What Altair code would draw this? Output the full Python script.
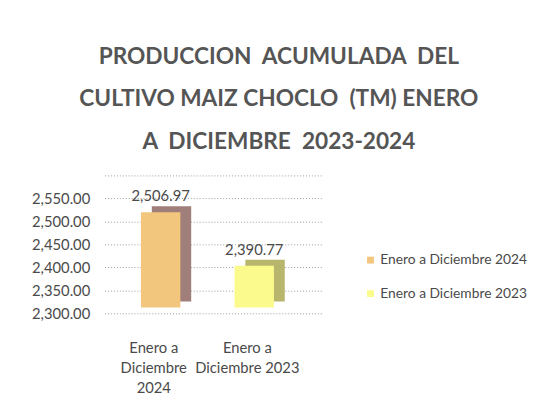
import altair as alt
import pandas as pd

categories = ["Enero a|Diciembre|2024", "Enero a|Diciembre 2023"]
series = ["Enero a  Diciembre  2024", "Enero a Diciembre 2023"]
values = [2506.97, 2390.77]
front_colors = ["#f3c67e", "#fbfa8c"]
side_colors = ["#a07e7a", "#b7b66c"]
y_ticks = [2300, 2350, 2400, 2450, 2500, 2550, 2600]
title_lines = [
    "PRODUCCION\u00a0 ACUMULADA\u00a0 DEL",
    "CULTIVO MAIZ CHOCLO\u00a0 (TM) ENERO",
    "A\u00a0 DICIEMBRE\u00a0 2023-2024",
]

FONT = "Lato"
TXT = "#4a4a4a"

df = pd.DataFrame({"cat": categories, "serie": series, "valor": values, "side": side_colors})

x_enc = alt.X(
    "cat:N",
    sort=categories,
    scale=alt.Scale(paddingInner=0.579, paddingOuter=0.458, align=0.425),
    axis=alt.Axis(
        title=None,
        labelExpr="split(datum.label, '|')",
        labelAngle=0,
        labelFont=FONT,
        labelFontSize=15,
        labelColor=TXT,
        labelLineHeight=20,
        labelPadding=28,
        labelOffset=-7,
        ticks=False,
        domain=False,
        grid=False,
    ),
)
y_scale = alt.Scale(domain=[2300, 2600], nice=False, zero=False)
y_enc = alt.Y(
    "valor:Q",
    scale=y_scale,
    axis=alt.Axis(
        title=None,
        values=y_ticks,
        labelExpr="datum.value >= 2600 ? '' : format(datum.value, ',.2f')",
        labelFont=FONT,
        labelFontSize=15,
        labelColor=TXT,
        labelPadding=15,
        ticks=False,
        domain=False,
        grid=True,
        gridColor="#9a9a9a",
        gridDash=[1, 2],
        gridWidth=1,
    ),
)

base = alt.Chart(df)

side = base.mark_bar(xOffset=11, x2Offset=11, yOffset=-12, y2Offset=-12).encode(
    x=x_enc,
    y=y_enc,
    y2=alt.datum(2300),
    color=alt.Color("side:N", scale=None, legend=None),
)

front = base.mark_bar(yOffset=-6, y2Offset=-6).encode(
    x=x_enc,
    y=y_enc,
    y2=alt.datum(2300),
    color=alt.Color(
        "serie:N",
        sort=series,
        scale=alt.Scale(domain=series, range=front_colors),
        legend=alt.Legend(
            title=None,
            orient="none",
            legendX=263,
            legendY=79,
            symbolType="square",
            symbolSize=49,
            symbolStrokeWidth=0,
            labelFont=FONT,
            labelFontSize=14,
            labelColor=TXT,
            labelLimit=300,
            rowPadding=20,
            labelOffset=3,
        ),
    ),
)

labels = base.mark_text(dy=-22, font=FONT, fontSize=15, color=TXT).encode(
    x=x_enc,
    y=y_enc,
    text=alt.Text("valor:Q", format=",.2f"),
)

chart = (
    alt.layer(side, front, labels)
    .resolve_scale(color="independent")
    .properties(
        width=222,
        height=140,
        padding={"left": 23, "top": 36, "right": 0, "bottom": 0},
        background="white",
        title=alt.TitleParams(
            text=title_lines,
            font=FONT,
            fontSize=23,
            fontWeight="bold",
            color="#555555",
            lineHeight=43,
            anchor="middle",
            frame="group",
            dx=66,
            offset=22,
        ),
    )
    .configure_view(stroke=None)
)

chart.save("out.html", embed_options={"renderer": "svg", "actions": False})
